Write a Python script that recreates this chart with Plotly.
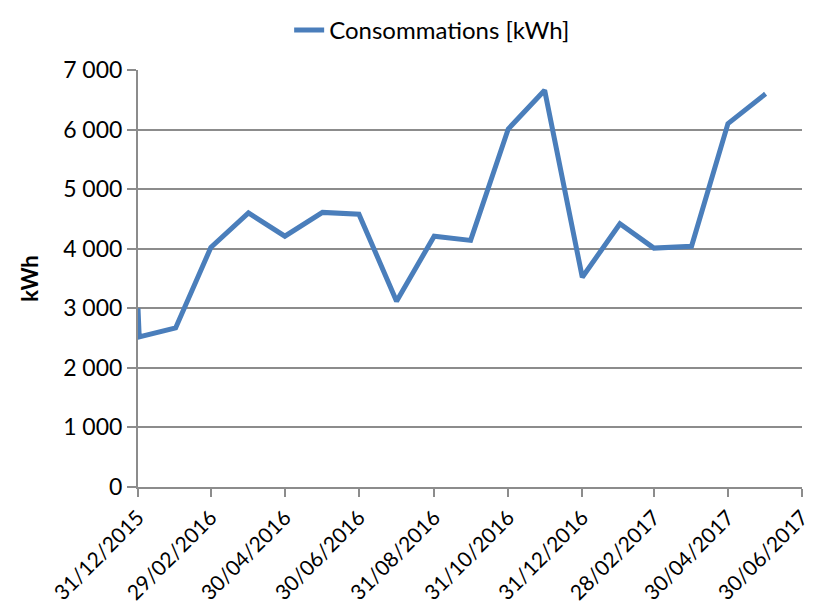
import plotly.graph_objects as go

dates = ["2015-12-31", "2016-01-01", "2016-01-31", "2016-02-29", "2016-03-31", "2016-04-30",
         "2016-05-31", "2016-06-30", "2016-07-31", "2016-08-31", "2016-09-30", "2016-10-31",
         "2016-11-30", "2016-12-31", "2017-01-31", "2017-02-28", "2017-03-31", "2017-04-30",
         "2017-05-31"]
consommations = [3000, 2520, 2670, 4020, 4600, 4210, 4610, 4580, 3120, 4210, 4140, 6010,
                 6660, 3520, 4420, 4010, 4040, 6100, 6600]

tick_dates = ["2015-12-31", "2016-02-29", "2016-04-30", "2016-06-30", "2016-08-31",
              "2016-10-31", "2016-12-31", "2017-02-28", "2017-04-30", "2017-06-30"]
tick_labels = ["31/12/2015", "29/02/2016", "30/04/2016", "30/06/2016", "31/08/2016",
               "31/10/2016", "31/12/2016", "28/02/2017", "30/04/2017", "30/06/2017"]
y_ticks = [0, 1000, 2000, 3000, 4000, 5000, 6000, 7000]

FONT = "Lato, 'Open Sans', sans-serif"
GRID = "#8c8c8c"

fig = go.Figure()
fig.add_trace(go.Scatter(
    x=dates, y=consommations, mode="lines", name="Consommations [kWh]",
    line=dict(color="#4a7ebb", width=5),
))

# page body has an 8px margin, so the figure is 813x605 and offsets are reduced by 8
fig.update_layout(
    width=813, height=605,
    margin=dict(l=130, r=19, t=62, b=126, autoexpand=False),
    paper_bgcolor="white", plot_bgcolor="white",
    font=dict(family=FONT, size=23, color="black"),
    separators=", ",
    showlegend=True,
    legend=dict(orientation="h", x=0.443, xanchor="center",
                yref="container", y=1, yanchor="top",
                font=dict(size=24), bgcolor="rgba(0,0,0,0)"),
)

fig.update_xaxes(
    type="date",
    range=["2015-12-31", "2017-06-30"],
    tickmode="array", tickvals=tick_dates, ticktext=tick_labels,
    tickangle=-45,
    automargin=False,
    showgrid=False,
    showline=True, linecolor=GRID, linewidth=2,
    ticks="outside", ticklen=8, tickwidth=2, tickcolor=GRID,
    tickfont=dict(size=21),
)

fig.update_yaxes(
    range=[0, 7000],
    tickmode="array", tickvals=y_ticks,
    tickformat=",",
    automargin=False,
    showgrid=True, gridcolor=GRID, gridwidth=2,
    showline=True, linecolor=GRID, linewidth=2,
    ticks="outside", ticklen=9, tickwidth=2, tickcolor=GRID,
    zeroline=False,
    title=dict(text="<b>kWh</b>", font=dict(size=22), standoff=18),
    tickfont=dict(size=23),
)

fig.write_html("out.html")
